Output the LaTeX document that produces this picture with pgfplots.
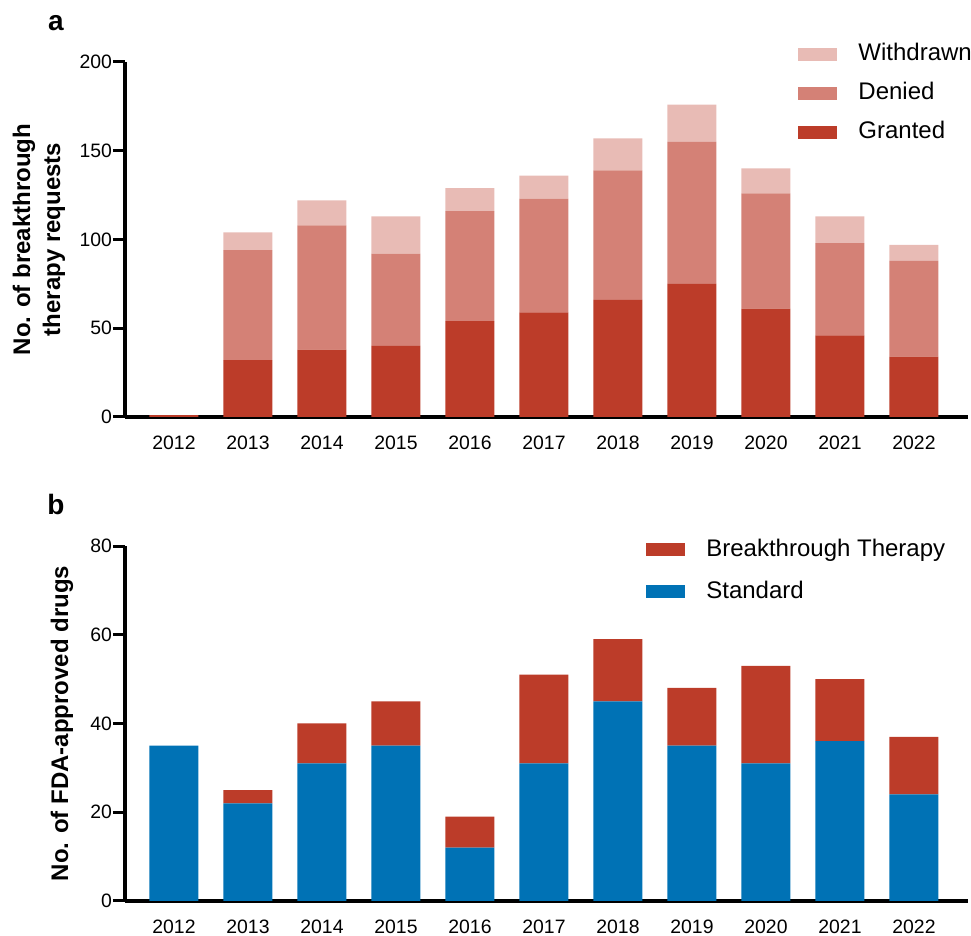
\documentclass[border=0pt]{standalone}
\usepackage{pgfplots}
\pgfplotsset{compat=1.18}
\usepackage{fontspec}
\setmainfont{Liberation Sans}
\definecolor{granted}{HTML}{BC3C29}
\definecolor{denied}{HTML}{D48176}
\definecolor{withdrawn}{HTML}{E8BBB5}
\definecolor{stdblue}{HTML}{0072B5}
\pgfplotsset{
  mybase/.style={
    scale only axis, width=421.5pt, height=177.5pt,
    axis x line=bottom, axis y line=left,
    axis line style={-, line width=2pt},
    ybar stacked, bar width=24.5pt,
    xmin=-0.662, xmax=10.73, ymin=0,
    xtick={0,...,10},
    xticklabels={2012,2013,2014,2015,2016,2017,2018,2019,2020,2021,2022},
    x tick style={draw=none},
    y tick style={line width=1.5pt, black},
    tick align=outside, major tick length=6pt,
    /pgf/number format/assume math mode=true,
    tick label style={font=\fontsize{9.7}{11}\selectfont},
    xticklabel style={yshift=0pt},
    yticklabel style={xshift=3pt},
    clip=false,
    reverse legend,
    legend cell align=left,
    legend style={draw=none, fill=none, inner sep=0pt,
      font=\fontsize{12}{14}\selectfont,
      nodes={inner sep=0pt, text height=9pt, text depth=2.5pt},
      /tikz/column sep=10.5pt},
  },
  sw/.style={legend image code/.code={\fill[##1] (0pt,-3.25pt) rectangle (19.5pt,3.25pt);}},
}
\begin{document}
\begin{tikzpicture}
\useasboundingbox (-62.5pt,-17.5pt) rectangle (423pt,450.5pt);
% panel a
\begin{axis}[mybase, at={(0pt,242pt)},
  ymax=200, ytick={0,50,100,150,200},
  ylabel={No. of breakthrough\\therapy requests},
  ylabel style={at={(axis description cs:-0.102,0.5)}, anchor=center, align=center,
    font=\fontsize{12}{15}\bfseries\selectfont},
  legend style={at={(rel axis cs:0.7984,1.056)}, anchor=north west, /tikz/row sep=8pt},
]
\addplot[fill=granted, draw=none, sw] coordinates {(0,1) (1,32) (2,38) (3,40) (4,54) (5,59) (6,66) (7,75) (8,61) (9,46) (10,34)};
\addplot[fill=denied, draw=none, sw] coordinates {(0,0) (1,62) (2,70) (3,52) (4,62) (5,64) (6,73) (7,80) (8,65) (9,52) (10,54)};
\addplot[fill=withdrawn, draw=none, sw] coordinates {(0,0) (1,10) (2,14) (3,21) (4,13) (5,13) (6,18) (7,21) (8,14) (9,15) (10,9)};
\legend{Granted,Denied,Withdrawn}
\node[font=\fontsize{14}{16}\bfseries\selectfont] at (rel axis cs:-0.082,1.11) {a};
\end{axis}
% panel b
\begin{axis}[mybase, at={(0pt,0pt)},
  ymax=80, ytick={0,20,40,60,80},
  ylabel={No. of FDA-approved drugs},
  ylabel style={at={(axis description cs:-0.0747,0.5)}, anchor=center,
    font=\fontsize{12}{15}\bfseries\selectfont},
  legend style={at={(rel axis cs:0.618,1.023)}, anchor=north west, /tikz/row sep=9.5pt},
]
\addplot[fill=stdblue, draw=none, sw] coordinates {(0,35) (1,22) (2,31) (3,35) (4,12) (5,31) (6,45) (7,35) (8,31) (9,36) (10,24)};
\addplot[fill=granted, draw=none, sw] coordinates {(0,0) (1,3) (2,9) (3,10) (4,7) (5,20) (6,14) (7,13) (8,22) (9,14) (10,13)};
\legend{Standard,Breakthrough Therapy}
\node[font=\fontsize{14}{16}\bfseries\selectfont] at (rel axis cs:-0.082,1.118) {b};
\end{axis}
\end{tikzpicture}
\end{document}
